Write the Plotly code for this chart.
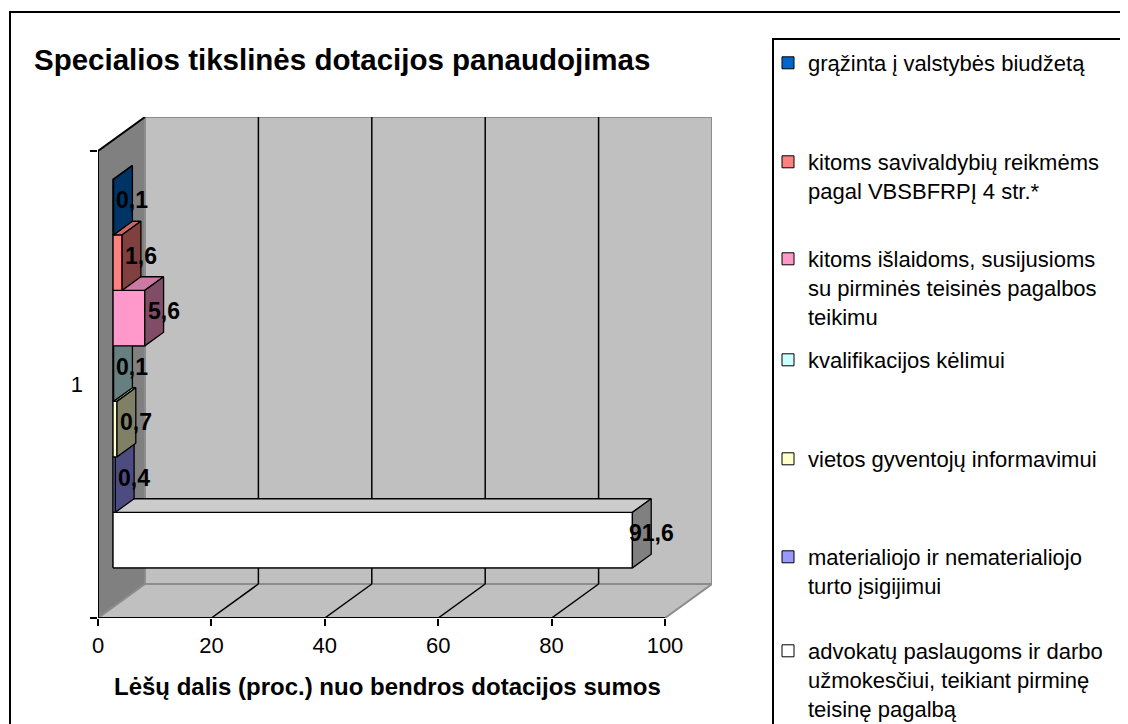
import plotly.graph_objects as go

# ---------------- data ----------------
category_labels = ["1"]
series_names = [
    "grąžinta į valstybės biudžetą",
    "kitoms savivaldybių reikmėms<br>pagal VBSBFRPĮ 4 str.*",
    "kitoms išlaidoms, susijusioms<br>su pirminės teisinės pagalbos<br>teikimu",
    "kvalifikacijos kėlimui",
    "vietos gyventojų informavimui",
    "materialiojo ir nematerialiojo<br>turto įsigijimui",
    "advokatų paslaugoms ir darbo<br>užmokesčiui, teikiant pirminę<br>teisinę pagalbą",
]
values = [0.1, 1.6, 5.6, 0.1, 0.7, 0.4, 91.6]
value_text = ["0,1", "1,6", "5,6", "0,1", "0,7", "0,4", "91,6"]
series_colors = ["#0066CC", "#FF8080", "#FF99CC", "#CCFFFF", "#FFFFCC", "#9999FF", "#FFFFFF"]
x_tick_values = [0, 20, 40, 60, 80, 100]
chart_title = "Specialios tikslinės dotacijos panaudojimas"
x_axis_title = "Lėšų dalis (proc.) nuo bendros dotacijos sumos"

# ---------------- geometry / style ----------------
FONT = "Liberation Sans, Arial, sans-serif"
PAGE_OFF = 8                      # default body margin of the html page
FIG_W, FIG_H = 1128 - PAGE_OFF, 724 - PAGE_OFF
# plot area in page pixels
PLOT_L, PLOT_R, PLOT_T, PLOT_B = 98, 712, 117, 618
PX_PER_UNIT = 5.67
X_MAX = x_tick_values[-1]
x_range = [0, (PLOT_R - PLOT_L) / PX_PER_UNIT]
y_range = [0, PLOT_B - PLOT_T]
BAND = 467                      # category band height (front plane)
WALL_DX = 47 / PX_PER_UNIT      # depth offset of back wall (x units)
WALL_DY = 34                    # depth offset of back wall (y units)
D0, DB = 0.32, 0.40             # bar depth start / bar depth size (fraction of wall depth)
BAR_H = 55.5
TOP_SHADE, SIDE_SHADE = 0.8, 0.5
LEGEND_FIRST_LINE = [61, 160, 257, 358, 457, 555, 649]


def px_x(px):
    return (px - PLOT_L) / (PLOT_R - PLOT_L)


def px_y(py):
    return (PLOT_B - py) / (PLOT_B - PLOT_T)


def shade(hex_color, f):
    h = hex_color.lstrip("#")
    r, g, b = (int(h[k:k + 2], 16) for k in (0, 2, 4))
    return "#%02X%02X%02X" % (round(r * f), round(g * f), round(b * f))


fig = go.Figure()
shapes = []

# walls and floor
shapes.append(dict(type="path", xref="x", yref="y", layer="below",
                   path=f"M0,0 L0,{BAND} L{WALL_DX},{BAND + WALL_DY} L{WALL_DX},{WALL_DY} Z",
                   fillcolor="#808080", line=dict(width=0)))
shapes.append(dict(type="rect", xref="x", yref="y", layer="below",
                   x0=WALL_DX, x1=X_MAX + WALL_DX, y0=WALL_DY, y1=BAND + WALL_DY,
                   fillcolor="#C0C0C0", line=dict(color="#8C8C8C", width=2)))
shapes.append(dict(type="path", xref="x", yref="y", layer="below",
                   path=f"M0,0 L{X_MAX},0 L{X_MAX + WALL_DX},{WALL_DY} L{WALL_DX},{WALL_DY} Z",
                   fillcolor="#C0C0C0", line=dict(color="#8C8C8C", width=2)))
for t in x_tick_values[1:-1]:
    shapes.append(dict(type="line", xref="x", yref="y", layer="below",
                       x0=t + WALL_DX, x1=t + WALL_DX, y0=WALL_DY, y1=BAND + WALL_DY,
                       line=dict(color="black", width=1.5)))
    shapes.append(dict(type="line", xref="x", yref="y", layer="below",
                       x0=t, x1=t + WALL_DX, y0=0, y1=WALL_DY,
                       line=dict(color="black", width=1.5)))
# left wall top edge, axis lines
shapes.append(dict(type="line", xref="x", yref="y", layer="below",
                   x0=0, x1=WALL_DX, y0=BAND, y1=BAND + WALL_DY,
                   line=dict(color="black", width=2)))
shapes.append(dict(type="line", xref="x", yref="y", layer="above",
                   x0=0, x1=0, y0=0, y1=BAND, line=dict(color="black", width=2)))
shapes.append(dict(type="line", xref="x", yref="y", layer="above",
                   x0=0, x1=X_MAX, y0=0, y1=0, line=dict(color="black", width=2)))

# frames (chart area + legend box); right/bottom edges fall outside the picture
shapes.append(dict(type="rect", xref="paper", yref="paper",
                   x0=px_x(10), x1=px_x(1160), y0=px_y(12), y1=px_y(760),
                   line=dict(color="black", width=2), fillcolor="rgba(0,0,0,0)"))
shapes.append(dict(type="rect", xref="paper", yref="paper",
                   x0=px_x(773), x1=px_x(1160), y0=px_y(39), y1=px_y(760),
                   line=dict(color="black", width=2), fillcolor="rgba(0,0,0,0)"))

n = len(values)
b0 = D0 * WALL_DX
dbx, dby = DB * WALL_DX, DB * WALL_DY
centers = [BAND / 2 + D0 * WALL_DY + ((n - 1) / 2 - i) * BAR_H for i in range(n)]

# legend-carrying bar traces (front faces)
for i in range(n):
    key = "legend" if i == 0 else f"legend{i + 1}"
    fig.add_trace(go.Bar(
        orientation="h", y=[centers[i]], x=[values[i]], base=[b0], width=[BAR_H],
        marker=dict(color=series_colors[i], line=dict(color="black", width=1)),
        name=series_names[i], legend=key, hoverinfo="skip"))

# 3D boxes, painted from bottom bar to top bar
for i in reversed(range(n)):
    v, yc, col = values[i], centers[i], series_colors[i]
    yb, yt = yc - BAR_H / 2, yc + BAR_H / 2
    xe = b0 + v
    faces = [
        ([b0, xe, xe, b0, b0], [yb, yb, yt, yt, yb], col),
        ([b0, xe, xe + dbx, b0 + dbx, b0], [yt, yt, yt + dby, yt + dby, yt], shade(col, TOP_SHADE)),
        ([xe, xe + dbx, xe + dbx, xe, xe], [yb, yb + dby, yt + dby, yt, yb], shade(col, SIDE_SHADE)),
    ]
    for fx, fy, fc in faces:
        fig.add_trace(go.Scatter(x=fx, y=fy, mode="lines", fill="toself", fillcolor=fc,
                                 line=dict(color="black", width=1.3), showlegend=False,
                                 hoverinfo="skip"))

annotations = []
for i in range(n):
    annotations.append(dict(x=b0 + values[i] + dbx, y=centers[i] + dby / 2, xref="x", yref="y",
                            text=f"<b>{value_text[i]}</b>", showarrow=False,
                            xanchor="center", yanchor="middle",
                            font=dict(family=FONT, size=23, color="black")))
annotations.append(dict(x=px_x(32), y=px_y(59), xref="paper", yref="paper",
                        text=f"<b>{chart_title}</b>", showarrow=False,
                        xanchor="left", yanchor="middle",
                        font=dict(family=FONT, size=29.5, color="black")))
annotations.append(dict(x=px_x(387), y=px_y(686), xref="paper", yref="paper",
                        text=f"<b>{x_axis_title}</b>", showarrow=False,
                        xanchor="center", yanchor="middle",
                        font=dict(family=FONT, size=24, color="black")))

legend_layouts = {}
for i in range(n):
    key = "legend" if i == 0 else f"legend{i + 1}"
    legend_layouts[key] = dict(
        x=px_x(768), y=px_y(LEGEND_FIRST_LINE[i] - 19), xanchor="left", yanchor="top",
        bgcolor="rgba(0,0,0,0)", borderwidth=0, valign="top",
        font=dict(family=FONT, size=22, color="black"))

fig.update_layout(
    width=FIG_W, height=FIG_H, autosize=False,
    margin=dict(l=PLOT_L - PAGE_OFF, r=FIG_W - (PLOT_R - PAGE_OFF),
                t=PLOT_T - PAGE_OFF, b=FIG_H - (PLOT_B - PAGE_OFF),
                pad=0, autoexpand=False),
    paper_bgcolor="white", plot_bgcolor="rgba(0,0,0,0)",
    barmode="overlay", showlegend=True,
    shapes=shapes, annotations=annotations,
    font=dict(family=FONT, color="black"),
    xaxis=dict(range=x_range, tickmode="array", tickvals=x_tick_values,
               ticktext=[str(t) for t in x_tick_values],
               ticks="outside", ticklen=7, tickwidth=2, tickcolor="black",
               tickfont=dict(family=FONT, size=22, color="black"),
               ticklabelstandoff=1,
               showgrid=False, zeroline=False, showline=False, fixedrange=True),
    yaxis=dict(range=y_range, tickmode="array", tickvals=[BAND / 2], ticktext=category_labels,
               ticks="", tickfont=dict(family=FONT, size=22, color="black"),
               ticklabelstandoff=14,
               minor=dict(tickmode="array", tickvals=[0, BAND], ticks="outside",
                          ticklen=7, tickwidth=2, tickcolor="black", showgrid=False),
               showgrid=False, zeroline=False, showline=False, fixedrange=True),
    **legend_layouts,
)

fig.write_html("out.html")
